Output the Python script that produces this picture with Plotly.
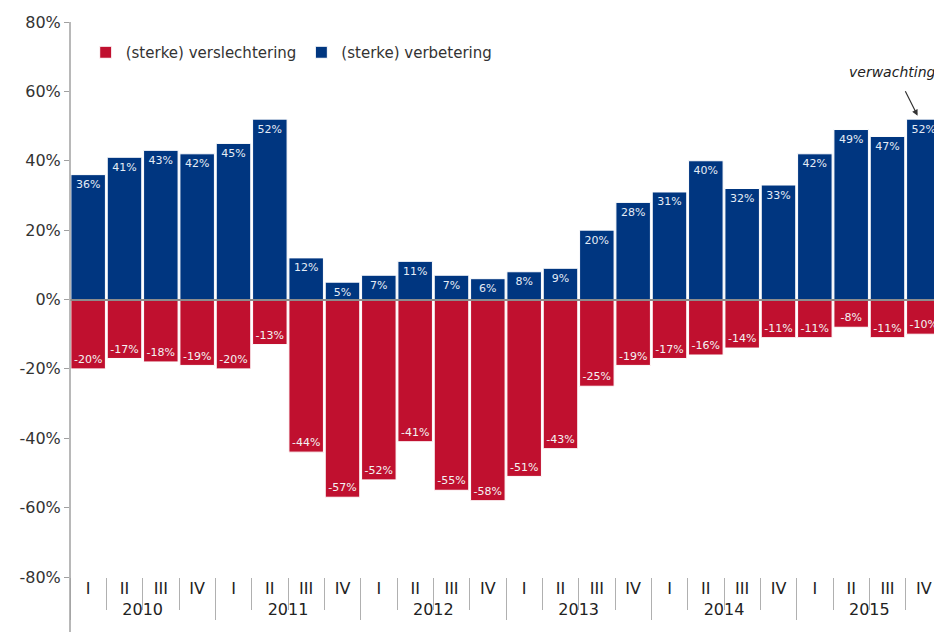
import plotly.graph_objects as go

years = ["2010", "2011", "2012", "2013", "2014", "2015"]
quarters = ["I", "II", "III", "IV"]
improvement = [36, 41, 43, 42, 45, 52, 12, 5, 7, 11, 7, 6, 8, 9, 20, 28, 31, 40, 32, 33, 42, 49, 47, 52]
deterioration = [-20, -17, -18, -19, -20, -13, -44, -57, -52, -41, -55, -58, -51, -43, -25, -19, -17, -16, -14, -11, -11, -8, -11, -10]
y_ticks = [80, 60, 40, 20, 0, -20, -40, -60, -80]

x_year = [y for y in years for q in quarters]
x_q = [q for y in years for q in quarters]

RED = "#c0102f"
BLUE = "#003680"
FONT = "DejaVu Sans"

fig = go.Figure()
fig.add_trace(go.Bar(
    x=[x_year, x_q], y=deterioration, name="(sterke) verslechtering",
    marker=dict(color=RED, line=dict(color="white", width=1)),
    text=[f"{v}%" for v in deterioration], textposition="inside",
    insidetextanchor="end", textangle=0,
    textfont=dict(family=FONT, size=11.5, color="#f3f3f3"),
))
fig.add_trace(go.Bar(
    x=[x_year, x_q], y=improvement, name="(sterke) verbetering",
    marker=dict(color=BLUE, line=dict(color="white", width=1)),
    text=[f"{v}%" for v in improvement], textposition="inside",
    insidetextanchor="end", textangle=0,
    textfont=dict(family=FONT, size=11.5, color="#e4ecf6"),
))

fig.update_layout(
    width=934, height=624,
    margin=dict(l=62, r=0, t=14, b=55),
    barmode="relative", bargap=0.05,
    plot_bgcolor="white", paper_bgcolor="white",
    font=dict(family=FONT, size=14, color="#333333"),
    uniformtext=dict(minsize=10, mode="show"),
    legend=dict(orientation="h", x=0.018, y=0.945, xanchor="left", yanchor="middle",
                font=dict(size=15, color="#333333"), traceorder="normal",
                itemwidth=30, bgcolor="rgba(0,0,0,0)"),
    showlegend=True,
)
fig.update_yaxes(
    range=[-80, 80], tickvals=y_ticks, ticktext=[f"{v}%" for v in y_ticks],
    showgrid=False, zeroline=True, zerolinecolor="#8c8c8c", zerolinewidth=1.5,
    zerolinelayer="above traces",
    showline=False, ticks="outside", ticklen=5, tickcolor="#a0a0a0",
    tickfont=dict(size=16, color="#333333"),
)
fig.update_xaxes(
    type="multicategory", showgrid=False, showline=False,
    ticks="outside", tickson="boundaries", ticklen=32, tickcolor="#b0b0b0",
    showdividers=True, dividercolor="#b0b0b0", dividerwidth=1,
    tickfont=dict(size=16, color="#222222"),
)
# vertical axis line extending through the label area
fig.add_shape(type="line", xref="paper", yref="paper", x0=0, x1=0, y0=1, y1=-0.12,
              line=dict(color="#a0a0a0", width=1.5))

fig.add_annotation(
    x=0.972, y=53, xref="paper", yref="y", ax=-13, ay=-26,
    text="", showarrow=True, arrowhead=2, arrowsize=1, arrowwidth=1.2, arrowcolor="#333333",
)
fig.add_annotation(
    x=0.995, y=65.5, xref="paper", yref="y", xanchor="right", showarrow=False,
    text="<i>verwachting</i>", font=dict(size=14, color="#222222"),
)

fig.write_html("out.html")
